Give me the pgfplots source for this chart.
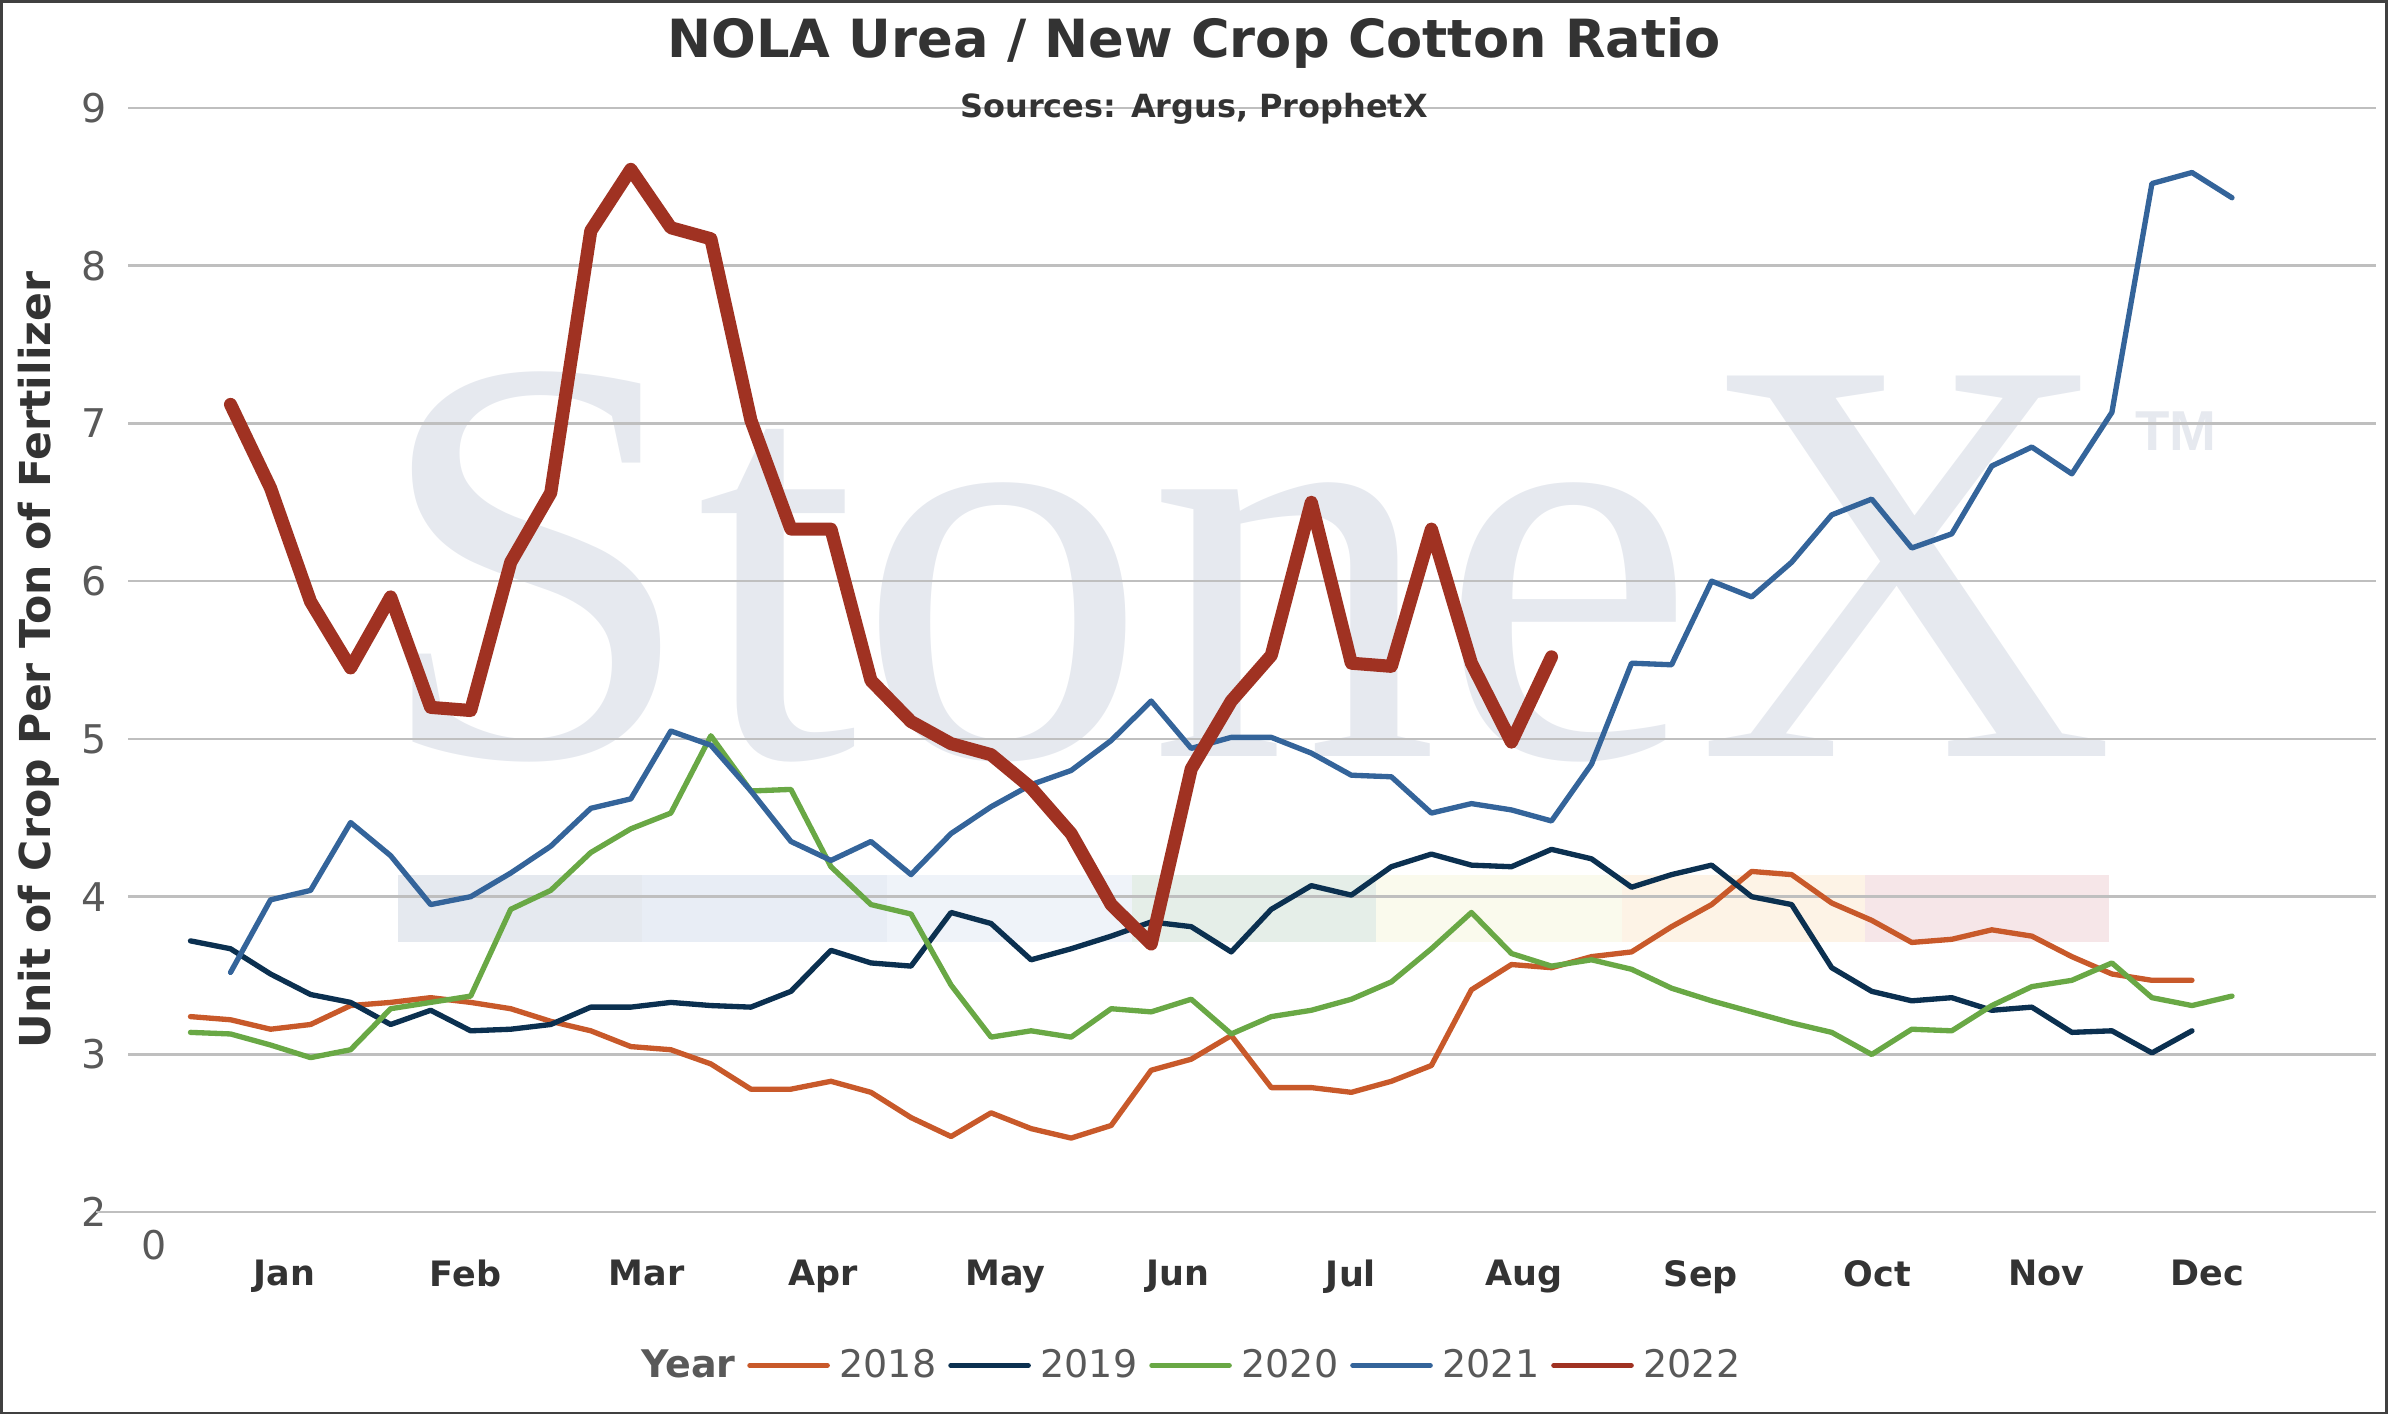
\documentclass[border=0pt]{standalone}
\usepackage{fontspec}
\setmainfont{DejaVu Sans}
\newfontfamily\wmfont{Liberation Serif}
\newfontfamily\tmfont{Liberation Sans}
\usepackage{pgfplots}
\pgfplotsset{compat=1.18}
\definecolor{c18}{HTML}{C8592A}
\definecolor{c19}{HTML}{0B3050}
\definecolor{c20}{HTML}{69A845}
\definecolor{c21}{HTML}{34649A}
\definecolor{c22}{HTML}{A03222}
\definecolor{framecol}{HTML}{404040}
\definecolor{gridcol}{HTML}{BFBFBF}
\definecolor{tickcol}{HTML}{595959}
\definecolor{monthcol}{HTML}{333333}
\definecolor{titlecol}{HTML}{333333}
\definecolor{wmcol}{HTML}{E6E9EF}
\definecolor{ba}{HTML}{E5E9EF}
\definecolor{bb}{HTML}{E8EDF5}
\definecolor{bc}{HTML}{EFF3F9}
\definecolor{bd}{HTML}{E5EEE8}
\definecolor{be}{HTML}{FAFAED}
\definecolor{bf}{HTML}{FDF3E6}
\definecolor{bg}{HTML}{F6E6E8}
\begin{document}
\begin{tikzpicture}
\draw[framecol, line width=0.9pt] (0,0) rectangle (784pt,464pt);
\begin{axis}[
  at={(41.7pt,66pt)}, anchor=south west,
  scale only axis, width=738.7pt, height=363pt,
  xmin=-1.555, xmax=54.59, ymin=2, ymax=9,
  clip=false, set layers=standard,
  axis line style={draw=none},
  major tick length=0pt,
  ytick={2,3,4,5,6,7,8,9},
  ymajorgrids, grid style={gridcol, line width=0.8pt},
  xtick={2.35,6.87,11.39,15.80,20.36,24.66,28.99,33.32,37.73,42.14,46.36,50.39},
  xticklabels={Jan,Feb,Mar,Apr,May,Jun,Jul,Aug,Sep,Oct,Nov,Dec},
  xticklabel style={font=\bfseries\fontsize{11.5}{13}\selectfont, text=monthcol, yshift=-12.2pt},
  yticklabel style={font=\fontsize{13}{15}\selectfont, text=tickcol, xshift=-3.4pt},
  /pgf/number format/assume math mode=true,
  ylabel={Unit of Crop Per Ton of Fertilizer},
  ylabel style={at={(axis description cs:-0.04,0.5)}, anchor=center, font=\bfseries\fontsize{14}{16}\selectfont, text=titlecol},
  no markers,
  every axis plot/.append style={line join=round, line cap=round},
  legend columns=-1,
  legend style={at={(0.4706,-0.1387)}, anchor=center, draw=none, fill=none, inner sep=0pt,
    font=\fontsize{12.5}{15}\selectfont, text=tickcol, nodes={inner sep=0pt},
    /tikz/every odd column/.append style={column sep=3.2pt},
    /tikz/every even column/.append style={column sep=3.9pt}},
  legend image code/.code={\draw[#1] (0pt,0pt) -- (25.5pt,0pt);},
]
\begin{pgfonlayer}{axis background}
\fill[ba] (axis cs:5.177,3.71) rectangle (axis cs:11.277,4.135);
\fill[bb] (axis cs:11.277,3.71) rectangle (axis cs:17.396,4.135);
\fill[bc] (axis cs:17.396,3.71) rectangle (axis cs:23.516,4.135);
\fill[bd] (axis cs:23.516,3.71) rectangle (axis cs:29.616,4.135);
\fill[be] (axis cs:29.616,3.71) rectangle (axis cs:35.755,4.135);
\fill[bf] (axis cs:35.755,3.71) rectangle (axis cs:41.836,4.135);
\fill[bg] (axis cs:41.836,3.71) rectangle (axis cs:47.936,4.135);
\node[anchor=base west, inner sep=0pt, font=\wmfont\fontsize{191}{191}\selectfont, text=wmcol] at (axis cs:4.55,4.89) {StoneX};
\node[anchor=base west, inner sep=0pt, font=\tmfont\bfseries\fontsize{18.5}{20}\selectfont, text=wmcol] at (axis cs:48.57,6.825) {TM};
\end{pgfonlayer}
\draw[gridcol, line width=0.8pt] (axis cs:-2.35,2) -- (axis cs:-1.555,2);
\node[anchor=north, inner sep=0pt, yshift=-5.8pt, font=\fontsize{13}{15}\selectfont, text=tickcol] at (axis cs:-0.9,2) {0};

\addlegendimage{empty legend}\addlegendentry{\textbf{Year}}
\addlegendimage{c18, line width=1.65pt}\addlegendentry{2018}
\addlegendimage{c19, line width=1.65pt}\addlegendentry{2019}
\addlegendimage{c20, line width=1.65pt}\addlegendentry{2020}
\addlegendimage{c21, line width=1.65pt}\addlegendentry{2021}
\addlegendimage{c22, line width=1.65pt}\addlegendentry{2022}

\addplot[c18, line width=1.75pt, forget plot] table {
0 3.24
1 3.22
2 3.16
3 3.19
4 3.31
5 3.33
6 3.36
7 3.33
8 3.29
9 3.21
10 3.15
11 3.05
12 3.03
13 2.94
14 2.78
15 2.78
16 2.83
17 2.76
18 2.60
19 2.48
20 2.63
21 2.53
22 2.47
23 2.55
24 2.90
25 2.97
26 3.12
27 2.79
28 2.79
29 2.76
30 2.83
31 2.93
32 3.41
33 3.57
34 3.55
35 3.62
36 3.65
37 3.81
38 3.95
39 4.16
40 4.14
41 3.96
42 3.85
43 3.71
44 3.73
45 3.79
46 3.75
47 3.62
48 3.51
49 3.47
50 3.47
};
\addplot[c19, line width=1.75pt, forget plot] table {
0 3.72
1 3.67
2 3.51
3 3.38
4 3.33
5 3.19
6 3.28
7 3.15
8 3.16
9 3.19
10 3.30
11 3.30
12 3.33
13 3.31
14 3.30
15 3.40
16 3.66
17 3.58
18 3.56
19 3.90
20 3.83
21 3.60
22 3.67
23 3.75
24 3.84
25 3.81
26 3.65
27 3.92
28 4.07
29 4.01
30 4.19
31 4.27
32 4.20
33 4.19
34 4.30
35 4.24
36 4.06
37 4.14
38 4.20
39 4.00
40 3.95
41 3.55
42 3.40
43 3.34
44 3.36
45 3.28
46 3.30
47 3.14
48 3.15
49 3.01
50 3.15
};
\addplot[c20, line width=1.75pt, forget plot] table {
0 3.14
1 3.13
2 3.06
3 2.98
4 3.03
5 3.29
6 3.33
7 3.37
8 3.92
9 4.04
10 4.28
11 4.43
12 4.53
13 5.02
14 4.67
15 4.68
16 4.19
17 3.95
18 3.89
19 3.44
20 3.11
21 3.15
22 3.11
23 3.29
24 3.27
25 3.35
26 3.13
27 3.24
28 3.28
29 3.35
30 3.46
31 3.67
32 3.90
33 3.64
34 3.56
35 3.60
36 3.54
37 3.42
38 3.34
39 3.27
40 3.20
41 3.14
42 3.00
43 3.16
44 3.15
45 3.31
46 3.43
47 3.47
48 3.58
49 3.36
50 3.31
51 3.37
};
\addplot[c21, line width=1.75pt, forget plot] table {
1 3.52
2 3.98
3 4.04
4 4.47
5 4.26
6 3.95
7 4.00
8 4.15
9 4.32
10 4.56
11 4.62
12 5.05
13 4.96
14 4.67
15 4.35
16 4.23
17 4.35
18 4.14
19 4.40
20 4.57
21 4.71
22 4.80
23 4.99
24 5.24
25 4.94
26 5.01
27 5.01
28 4.91
29 4.77
30 4.76
31 4.53
32 4.59
33 4.55
34 4.48
35 4.84
36 5.48
37 5.47
38 6.00
39 5.90
40 6.12
41 6.42
42 6.52
43 6.21
44 6.30
45 6.73
46 6.85
47 6.68
48 7.07
49 8.52
50 8.59
51 8.43
};
\addplot[c22, line width=4.3pt, forget plot] table {
1 7.12
2 6.59
3 5.87
4 5.45
5 5.90
6 5.20
7 5.18
8 6.12
9 6.56
10 8.22
11 8.61
12 8.24
13 8.17
14 7.02
15 6.33
16 6.33
17 5.37
18 5.11
19 4.97
20 4.90
21 4.69
22 4.40
23 3.95
24 3.70
25 4.81
26 5.24
27 5.53
28 6.50
29 5.48
30 5.46
31 6.33
32 5.48
33 4.98
34 5.52
};
\end{axis}
\node[anchor=base, inner sep=0pt, font=\bfseries\fontsize{17.3}{20}\selectfont, text=titlecol] at (392pt,445.4pt) {NOLA Urea / New Crop Cotton Ratio};
\node[anchor=base, inner sep=0pt, font=\bfseries\fontsize{10.5}{12}\selectfont, text=titlecol] at (392pt,425.7pt) {Sources: Argus, ProphetX};
\end{tikzpicture}
\end{document}
